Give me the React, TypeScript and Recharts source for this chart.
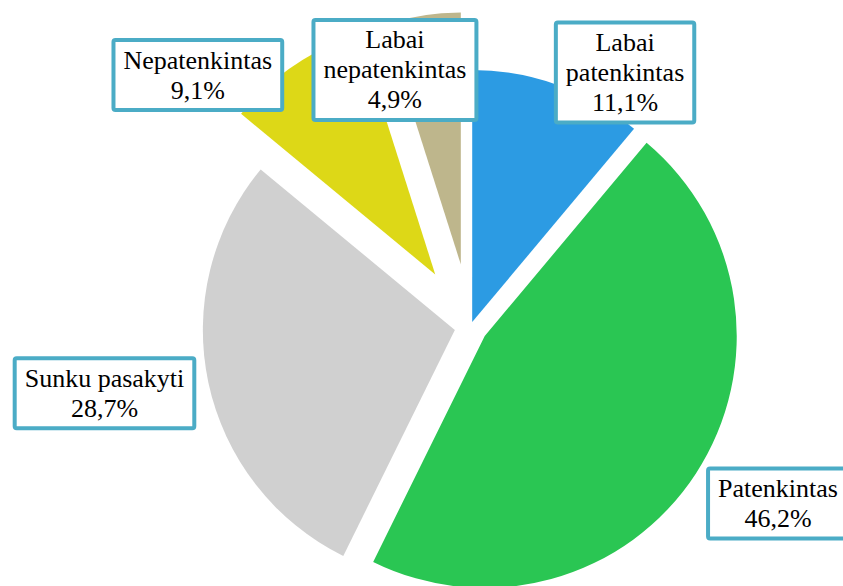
import React from 'react';
import { PieChart, Pie, Cell } from 'recharts';

const categories = ['Labai patenkintas', 'Patenkintas', 'Sunku pasakyti', 'Nepatenkintas', 'Labai nepatenkintas'];
const shares = [11.1, 46.2, 28.7, 9.1, 4.9];
const colors = ['#2C9BE3', '#2AC653', '#D0D0D0', '#DDD817', '#BEB68C'];

const data = categories.map((name, i) => ({ name, value: shares[i] }));

const WIDTH = 843;
const HEIGHT = 586;
const CENTER_X = 470.5;
const CENTER_Y = 326.7;
const RADIUS = 252;
// explosion distance of each slice (px, along its mid-angle)
const explode = [5, 17, 16, 63, 63];
// label placement: [degrees clockwise from 12 o'clock, distance from pie centre]
const labelPolar: [number, number][] = [
  [31.3, 297.5],
  [119.9, 354.7],
  [259.7, 372],
  [312.7, 371],
  [343.6, 267.6],
];

const FONT = "'Times New Roman', 'Liberation Serif', 'DejaVu Serif', serif";
const FONT_SIZE = 26;
const LINE_H = 30;
const PAD_X = 8;
const PAD_Y = 3;
const BORDER = 4;

const total = shares.reduce((a, b) => a + b, 0);
const midAngles = shares.map((v, i) => {
  const before = shares.slice(0, i).reduce((a, b) => a + b, 0);
  return ((before + v / 2) / total) * 360;
});

const wrapName = (name: string) => (name.length > 15 ? name.split(' ') : [name]);
const fmt = (v: number) => v.toFixed(1).replace('.', ',') + '%';

let ctx: CanvasRenderingContext2D | null = null;
const measure = (s: string) => {
  if (!ctx && typeof document !== 'undefined') {
    ctx = document.createElement('canvas').getContext('2d');
  }
  if (!ctx) return s.length * FONT_SIZE * 0.45;
  ctx.font = `${FONT_SIZE}px ${FONT}`;
  return ctx.measureText(s).width;
};

const renderLabel = (k: number) => (props: any) => {
  if (props.index !== k) return null;
  const [ang, dist] = labelPolar[k];
  const rad = (ang * Math.PI) / 180;
  const x = CENTER_X + dist * Math.sin(rad);
  const y = CENTER_Y - dist * Math.cos(rad);
  const lines = [...wrapName(categories[k]), fmt(shares[k])];
  const textW = Math.max(...lines.map(measure));
  const w = textW + 2 * PAD_X + 2 * BORDER;
  const h = lines.length * LINE_H + 2 * PAD_Y + 2 * BORDER;
  const left = x - w / 2;
  const top = y - h / 2;
  return (
    <g key={`lbl-${k}`}>
      <rect
        x={left + BORDER / 2}
        y={top + BORDER / 2}
        width={w - BORDER}
        height={h - BORDER}
        rx={2}
        ry={2}
        fill="#ffffff"
        stroke="#4BACC6"
        strokeWidth={BORDER}
      />
      <text
        x={x}
        textAnchor="middle"
        style={{ fontFamily: FONT, fontSize: FONT_SIZE }}
        fill="#000000"
      >
        {lines.map((l, i) => (
          <tspan key={i} x={x} y={top + BORDER + PAD_Y + i * LINE_H + 23.5}>
            {l}
          </tspan>
        ))}
      </text>
    </g>
  );
};

export default function App() {
  return (
    <div style={{ position: 'absolute', left: 0, top: 0, background: '#fff' }}>
      <PieChart width={WIDTH} height={HEIGHT} margin={{ top: 0, right: 0, bottom: 0, left: 0 }}>
        {categories.map((_, k) => {
          const rad = (midAngles[k] * Math.PI) / 180;
          return (
            <Pie
              key={k}
              data={data}
              dataKey="value"
              nameKey="name"
              cx={CENTER_X + explode[k] * Math.sin(rad)}
              cy={CENTER_Y - explode[k] * Math.cos(rad)}
              innerRadius={0}
              outerRadius={RADIUS}
              startAngle={90}
              endAngle={-270}
              stroke="none"
              isAnimationActive={false}
              labelLine={false}
              label={renderLabel(k)}
            >
              {data.map((d, i) => (
                <Cell key={d.name} fill={i === k ? colors[i] : 'transparent'} />
              ))}
            </Pie>
          );
        })}
      </PieChart>
    </div>
  );
}
